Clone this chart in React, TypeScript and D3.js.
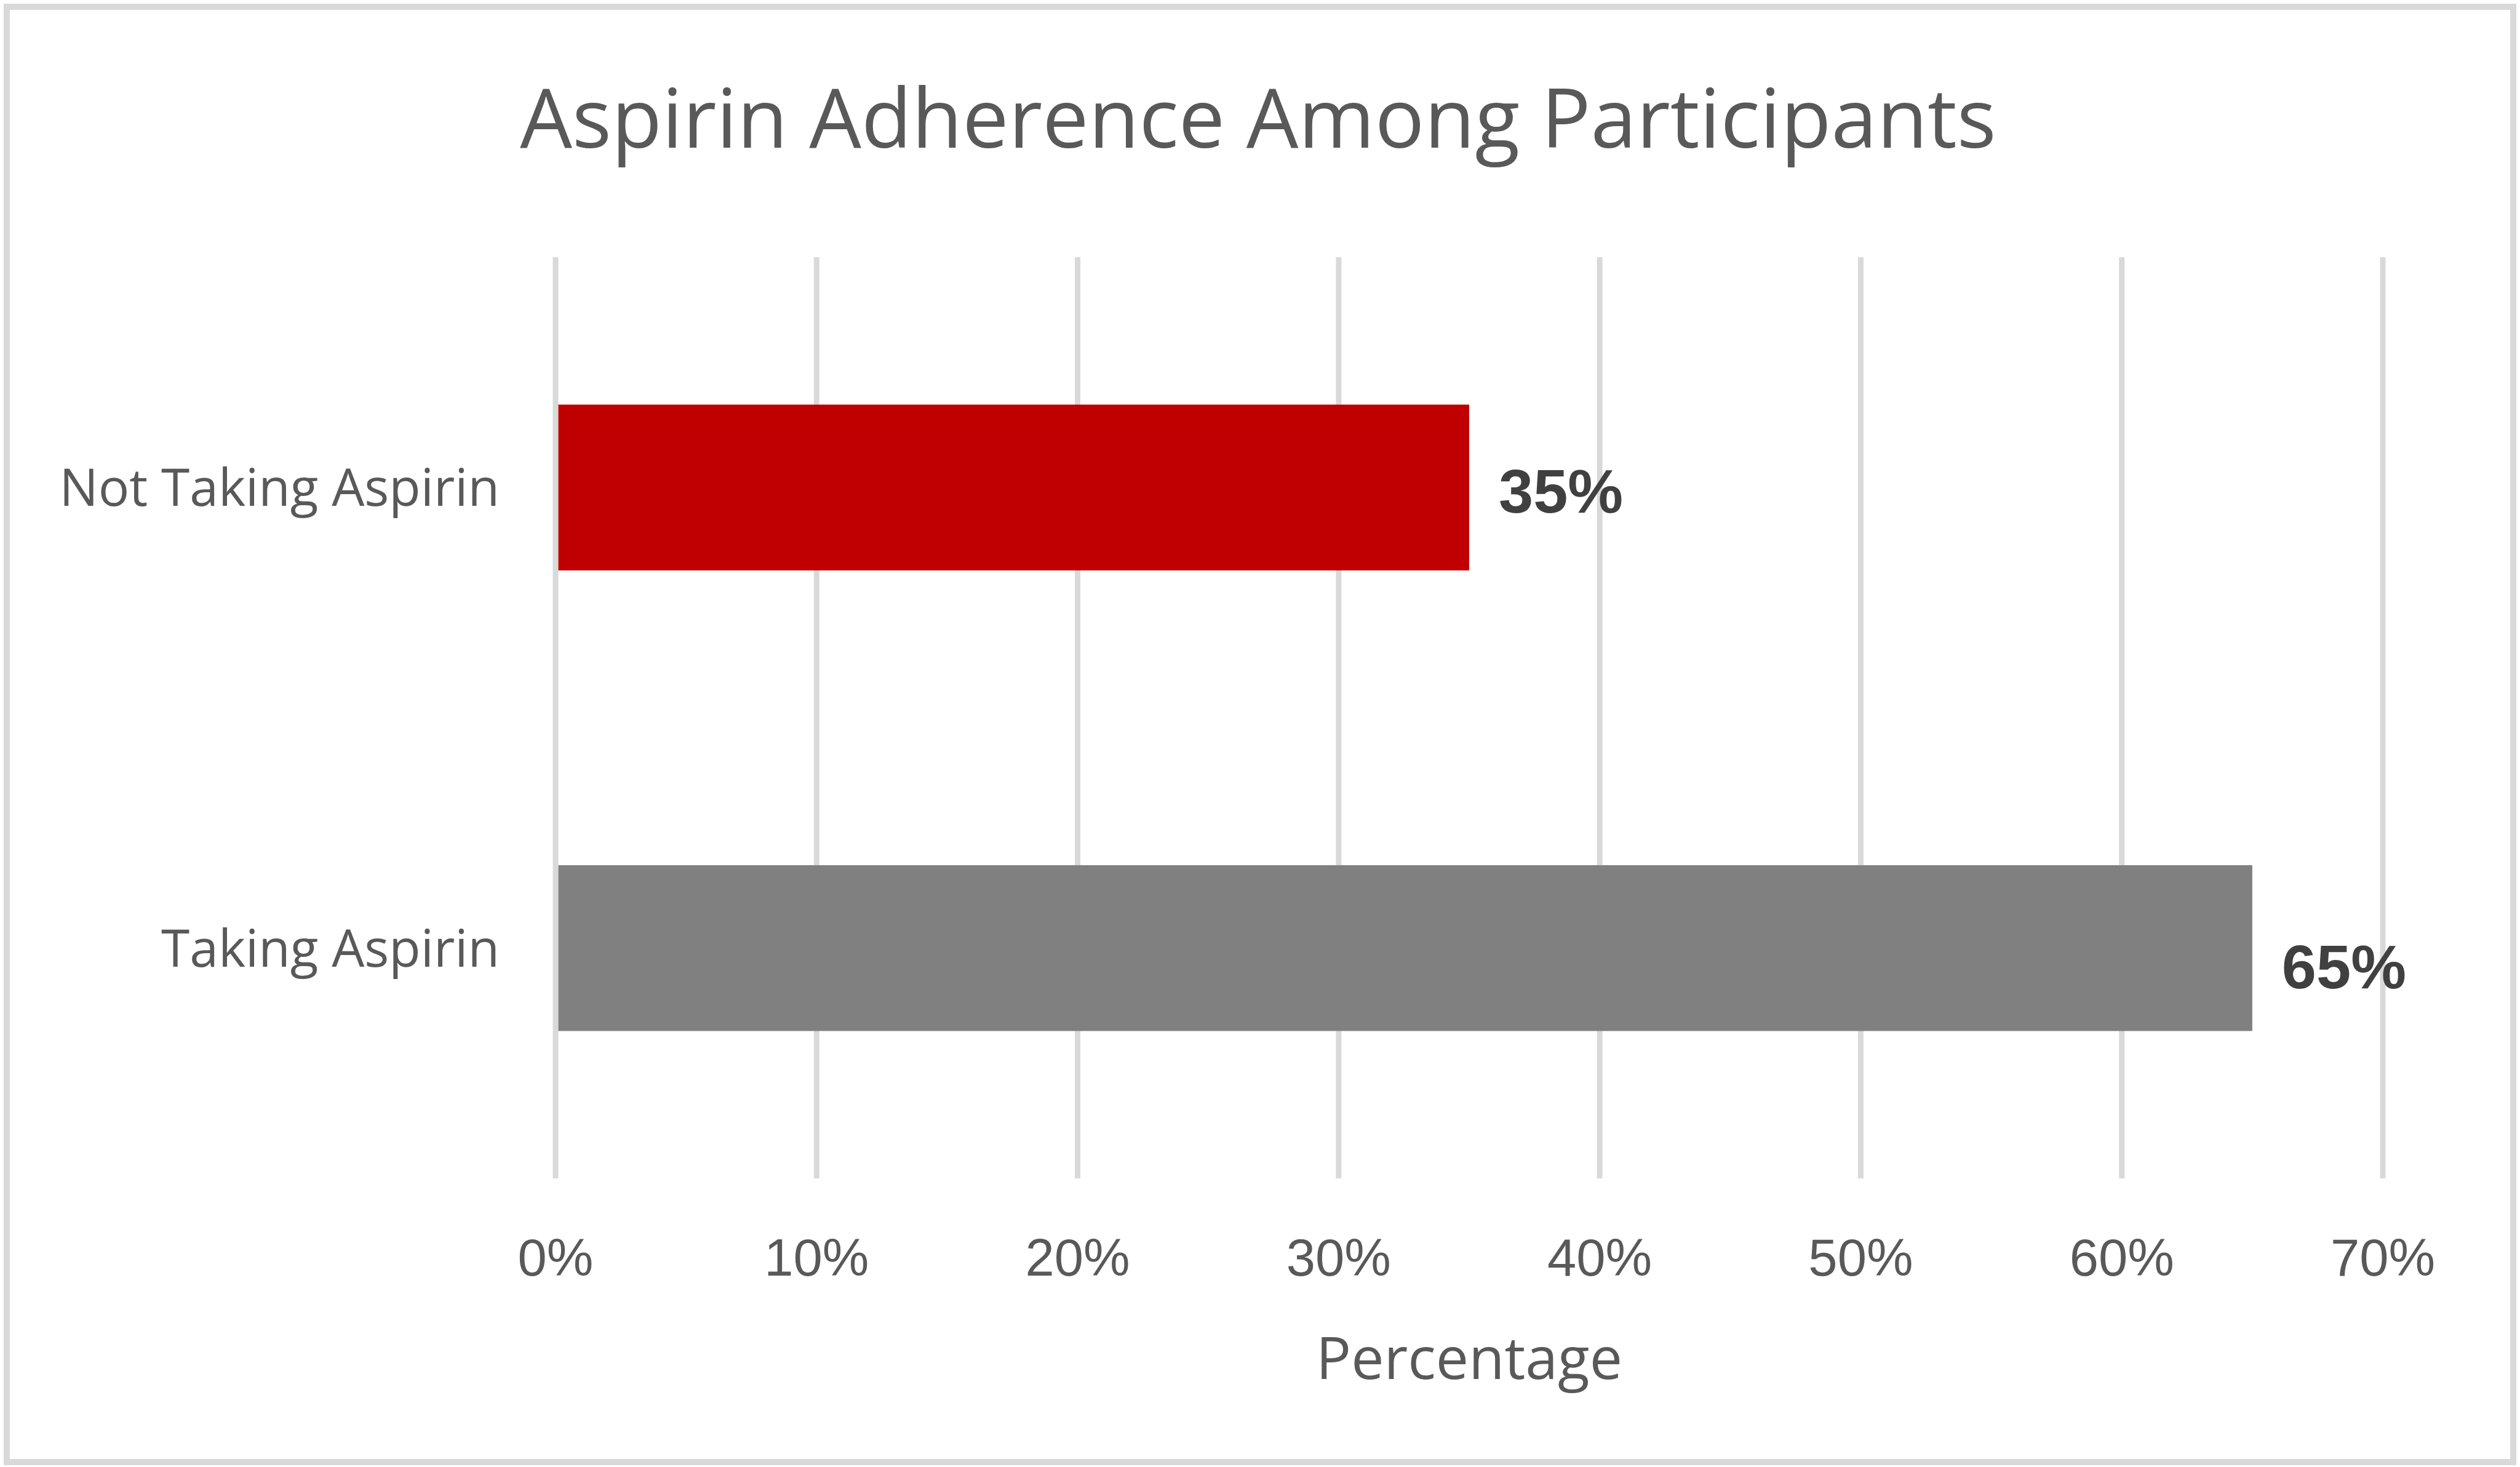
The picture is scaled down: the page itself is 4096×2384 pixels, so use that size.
import * as React from "react"
import * as d3 from "d3"

// chart data
const categories: ReadonlyArray<string> = ["Not Taking Aspirin", "Taking Aspirin"]
const shares: ReadonlyArray<number> = [0.35, 0.65]
const barColors: ReadonlyArray<string> = ["#C00000", "#808080"]
const xTicks: ReadonlyArray<number> = [0, 0.1, 0.2, 0.3, 0.4, 0.5, 0.6, 0.7]
const titleText = "Aspirin Adherence Among Participants"
const xTitle = "Percentage"

// label nudges (the 65% label sits a little below its bar centre in the original)
const labelNudge: ReadonlyArray<number> = [4, 29]

const W = 4096
const H = 2384
const margin = { top: 418, right: 223, bottom: 469, left: 903 }
const gridW = 9

const textFont = "'Open Sans', sans-serif"
const numFont = "'Liberation Sans', Arial, sans-serif"

const App = (): JSX.Element => {
    const innerW = 3873 - margin.left
    const innerH = H - margin.top - margin.bottom

    const x = d3.scaleLinear().domain([0, 0.7]).range([0, innerW])
    const y = d3.scaleBand<string>()
        .domain(categories as string[])
        .range([0, innerH])
        .paddingInner(0.64)
        .paddingOuter(0.32)

    const fmt = d3.format(".0%")

    return (
        <svg width={W} height={H} style={{ position: "absolute", left: 0, top: 0, background: "#fff" }}>
            <rect x={11} y={11} width={4074} height={2365} fill="#fff" stroke="#d9d9d9" strokeWidth={10} />

            <text x={2045} y={240} textAnchor="middle" fontFamily={textFont} fontSize={134} fill="#595959">
                {titleText}
            </text>

            <g transform={"translate(" + margin.left + "," + margin.top + ")"}>
                {/* grid */}
                {xTicks.map((t) => (
                    <line key={"g" + t} x1={x(t)} x2={x(t)} y1={0} y2={innerH} stroke="#d9d9d9" strokeWidth={gridW} />
                ))}

                {/* bars, starting just right of the zero gridline */}
                {categories.map((c, i) => (
                    <rect key={c} x={x(0) + gridW / 2} y={y(c)} width={x(shares[i]) - x(0) - gridW / 2}
                        height={y.bandwidth()} fill={barColors[i]} />
                ))}

                {/* value labels */}
                {categories.map((c, i) => (
                    <text key={"v" + c} x={x(shares[i]) + 48} y={(y(c) as number) + y.bandwidth() / 2 + labelNudge[i]}
                        dy="0.36em" fontFamily={numFont} fontWeight="bold" fontSize={101} fill="#404040">
                        {fmt(shares[i])}
                    </text>
                ))}

                {/* category labels */}
                {categories.map((c) => (
                    <text key={"c" + c} x={-91} y={(y(c) as number) + y.bandwidth() / 2} dy="0.36em"
                        textAnchor="end" fontFamily={textFont} fontSize={84} fill="#595959">
                        {c}
                    </text>
                ))}

                {/* tick labels */}
                {xTicks.map((t) => (
                    <text key={"t" + t} x={x(t)} y={innerH + 158} textAnchor="middle"
                        fontFamily={numFont} fontSize={85} fill="#595959">
                        {fmt(t)}
                    </text>
                ))}

                <text x={innerW / 2} y={innerH + 326} textAnchor="middle" fontFamily={textFont} fontSize={95} fill="#595959">
                    {xTitle}
                </text>
            </g>
        </svg>
    )
}

export default App
